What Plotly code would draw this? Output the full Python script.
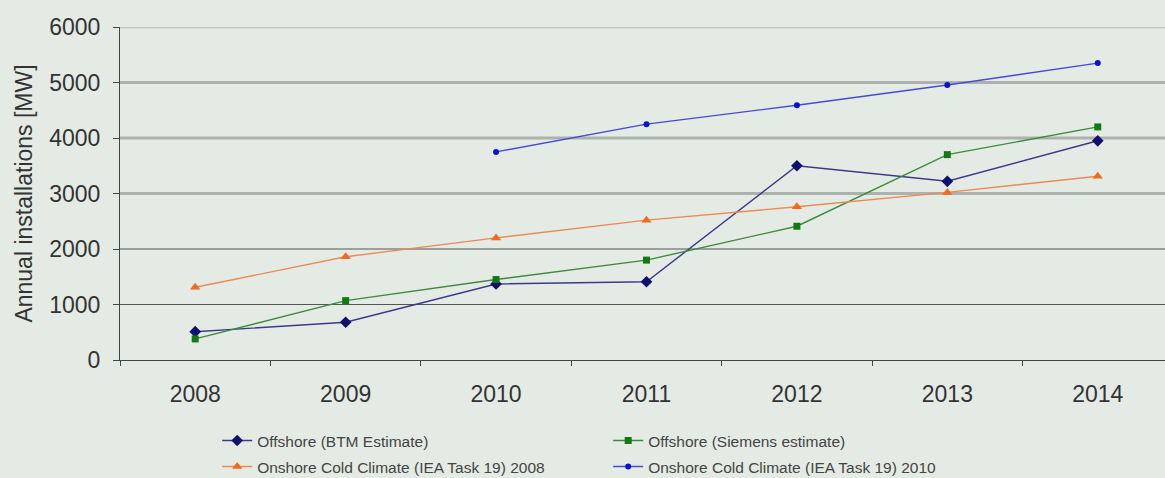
import plotly.graph_objects as go

years = ["2008", "2009", "2010", "2011", "2012", "2013", "2014"]
btm = [510, 680, 1370, 1410, 3500, 3220, 3950]
siemens = [380, 1070, 1450, 1800, 2410, 3700, 4200]
iea2008 = [1310, 1860, 2200, 2520, 2760, 3020, 3310]
years_2010 = ["2010", "2011", "2012", "2013", "2014"]
iea2010 = [3750, 4250, 4590, 4955, 5350]
y_ticks = [0, 1000, 2000, 3000, 4000, 5000, 6000]

fig = go.Figure()
fig.add_trace(go.Scatter(x=years, y=btm, name="Offshore (BTM Estimate)", mode="lines+markers",
                         line=dict(color="#3a3a8a", width=1.4), legend="legend",
                         marker=dict(symbol="diamond", size=9, color="#10106e")))
fig.add_trace(go.Scatter(x=years, y=siemens, name="Offshore (Siemens estimate)", mode="lines+markers",
                         line=dict(color="#3f8a3f", width=1.4), legend="legend",
                         marker=dict(symbol="square", size=7, color="#137a13")))
fig.add_trace(go.Scatter(x=years, y=iea2008, name="Onshore Cold Climate (IEA Task 19) 2008", mode="lines+markers",
                         line=dict(color="#ec8a55", width=1.4), legend="legend2",
                         marker=dict(symbol="triangle-up", size=9, color="#f26a1e")))
fig.add_trace(go.Scatter(x=years_2010, y=iea2010, name="Onshore Cold Climate (IEA Task 19) 2010", mode="lines+markers",
                         line=dict(color="#4a4ad0", width=1.4), legend="legend2",
                         marker=dict(symbol="circle", size=6, color="#1010d0")))

shapes = []
for v in y_ticks[1:]:
    if v >= 6000:
        col, w = "#c4c8c4", 3
    elif v >= 3000:
        col, w = "#aeb2ae", 3
    else:
        col, w = "#555555", 1
    shapes.append(dict(type="line", xref="paper", yref="y", x0=0, x1=1, y0=v, y1=v,
                       line=dict(color=col, width=w), layer="below"))

legend_font = dict(family="Liberation Sans, Arial, sans-serif", size=15.5, color="#444444")
common_legend = dict(orientation="h", x=0.093, xanchor="left", yanchor="middle",
                     entrywidth=346, entrywidthmode="pixels", font=legend_font,
                     bgcolor="rgba(0,0,0,0)", traceorder="normal")

fig.update_layout(
    width=1165, height=478,
    margin=dict(l=120, r=0, t=27, b=118, autoexpand=False),
    paper_bgcolor="#e4ebe4", plot_bgcolor="#e4ebe4",
    font=dict(family="Liberation Sans, Arial, sans-serif", color="#333333"),
    shapes=shapes,
    showlegend=True,
    legend=dict(common_legend, y=-0.243),
    legend2=dict(common_legend, y=-0.321),
)
fig.update_xaxes(type="category", categoryorder="array", categoryarray=years,
                 range=[-0.5, 6.447], showgrid=False, showline=True, linecolor="#444444", linewidth=1,
                 ticks="outside", tickson="boundaries", ticklen=5, tickcolor="#444444",
                 ticklabelstandoff=13,
                 tickfont=dict(size=23, color="#333333"), zeroline=False)
fig.update_yaxes(range=[0, 6000], tickvals=y_ticks, showgrid=False, zeroline=False,
                 showline=True, linecolor="#444444", linewidth=1,
                 ticks="outside", ticklen=6, tickcolor="#444444",
                 ticklabelstandoff=8,
                 tickfont=dict(size=23, color="#333333"),
                 title=dict(text="Annual installations [MW]", font=dict(size=23, color="#333333"), standoff=10))

fig.write_html("out.html", config={"displayModeBar": False},
               post_script="document.body.style.margin='0';document.body.style.padding='0';")
